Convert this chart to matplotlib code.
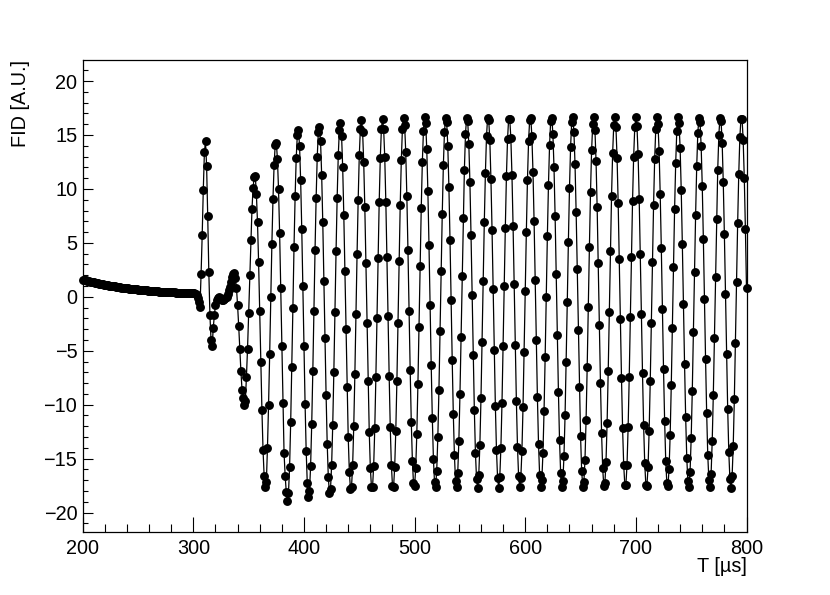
import numpy as np
import matplotlib
matplotlib.use("Agg")
import matplotlib.pyplot as plt
from matplotlib.ticker import MultipleLocator

# ---------------- data ----------------
t_start = 200      # first sample time [us]
t_step = 1         # sampling interval [us]

# 200 .. 303 us : slowly decaying baseline
fid_baseline = [
    1.60, 1.57, 1.55, 1.52, 1.49, 1.46, 1.43, 1.41, 1.38, 1.36,
    1.33, 1.31, 1.29, 1.26, 1.24, 1.22, 1.20, 1.18, 1.16, 1.14,
    1.12, 1.10, 1.08, 1.06, 1.04, 1.02, 1.00, 0.99, 0.97, 0.96,
    0.94, 0.92, 0.91, 0.89, 0.88, 0.86, 0.85, 0.83, 0.82, 0.80,
    0.79, 0.78, 0.76, 0.75, 0.74, 0.73, 0.71, 0.70, 0.69, 0.68,
    0.67, 0.66, 0.65, 0.64, 0.62, 0.61, 0.60, 0.59, 0.59, 0.58,
    0.57, 0.56, 0.55, 0.54, 0.53, 0.52, 0.51, 0.51, 0.50, 0.49,
    0.48, 0.47, 0.47, 0.46, 0.45, 0.45, 0.44, 0.43, 0.43, 0.42,
    0.42, 0.41, 0.40, 0.40, 0.39, 0.39, 0.38, 0.38, 0.37, 0.37,
    0.36, 0.36, 0.35, 0.35, 0.34, 0.34, 0.33, 0.33, 0.32, 0.32,
    0.31, 0.31, 0.30, 0.20,
]

# 304 .. 399 us : pulse transient and growing oscillation
fid_transient = [
    -0.1, -0.5, -0.95, 2.1, 5.7, 9.9, 13.4, 14.4, 12.1, 7.5,
    2.3, -1.7, -4.0, -4.6, -2.9, -1.7, -0.8, -0.3, -0.1, 0.0,
    -0.1, -0.2, -0.3, -0.3, -0.2, -0.1, 0.0, 0.3, 0.6, 0.9,
    1.4, 1.8, 2.1, 2.2, 1.7, 0.8, -0.8, -2.7, -4.8, -6.9,
    -8.6, -9.4, -10.0, -9.7, -7.4, -4.8, -1.5, 2.0, 5.3, 8.1,
    10.1, 11.1, 11.2, 9.5, 6.9, 3.2, -1.3, -6.0, -10.5, -14.2,
    -16.6, -17.6, -17.2, -14.0, -10.0, -5.3, 0.0, 4.9, 9.1, 12.2,
    14.1, 14.3, 12.8, 10.0, 5.9, 0.8, -4.6, -9.8, -14.5, -16.6,
    -18.1, -18.9, -18.2, -15.8, -11.6, -6.5, -1.0, 4.6, 9.3, 12.9,
    15.0, 15.5, 14.0, 10.8, 6.3, 1.0,
]

# 400 .. 800 us : steady precession signal
fid_steady = [
    -4.6, -9.9, -14.3, -17.3, -18.6, -18.0, -15.7, -11.8, -6.9, -1.3, 4.3, 9.2, 13.0, 15.3, 15.7, 14.4, 11.3, 6.9, 1.5,
    -3.8, -9.1, -13.6, -16.7, -18.2, -17.8, -15.6, -11.9, -7.0, -1.4, 4.2, 9.2, 13.1, 15.5, 16.1, 14.9, 12.0, 7.6, 2.4,
    -3.0, -8.4, -13.0, -16.2, -17.8, -17.6, -15.6, -12.0, -7.2, -1.6, 4.0, 9.0, 13.1, 15.6, 16.4, 15.3, 12.5, 8.3, 3.1,
    -2.4, -7.8, -12.5, -15.9, -17.6, -17.6, -15.7, -12.2, -7.4, -2.0, 3.6, 8.8, 12.9, 15.6, 16.5, 15.6, 13.0, 8.8, 3.7,
    -1.8, -7.3, -12.1, -15.6, -17.5, -17.6, -15.8, -12.4, -7.8, -2.4, 3.3, 8.5, 12.7, 15.6, 16.6, 15.9, 13.4, 9.3, 4.3,
    -1.3, -6.8, -11.6, -15.2, -17.3, -17.5, -15.9, -12.7, -8.1, -2.8, 2.9, 8.2, 12.5, 15.4, 16.7, 16.1, 13.7, 9.8, 4.8,
    -0.8, -6.3, -11.2, -15.0, -17.2, -17.6, -16.1, -13.0, -8.6, -3.2, 2.4, 7.7, 12.2, 15.3, 16.6, 16.2, 14.0, 10.2, 5.3,
    -0.3, -5.9, -10.9, -14.7, -17.1, -17.6, -16.3, -13.4, -9.0, -3.7, 1.9, 7.3, 11.8, 15.1, 16.6, 16.3, 14.2, 10.6, 5.7,
    0.2, -5.4, -10.5, -14.5, -16.9, -17.7, -16.5, -13.7, -9.4, -4.2, 1.5, 6.9, 11.5, 14.9, 16.6, 16.4, 14.5, 10.9, 6.2,
    0.7, -4.9, -10.1, -14.2, -16.8, -17.7, -16.7, -14.0, -9.8, -4.6, 1.0, 6.4, 11.2, 14.6, 16.5, 16.5, 14.7, 11.3, 6.6,
    1.2, -4.5, -9.7, -13.9, -16.6, -17.6, -16.8, -14.3, -10.2, -5.1, 0.5, 6.0, 10.8, 14.4, 16.4, 16.6, 14.9, 11.6, 7.0,
    1.6, -4.0, -9.3, -13.6, -16.5, -17.6, -17.0, -14.5, -10.6, -5.6, 0.0, 5.6, 10.4, 14.1, 16.3, 16.6, 15.1, 12.0, 7.5,
    2.1, -3.5, -8.8, -13.3, -16.3, -17.6, -17.1, -14.8, -11.0, -6.0, -0.5, 5.1, 10.1, 13.9, 16.2, 16.7, 15.3, 12.3, 7.9,
    2.6, -3.1, -8.4, -12.9, -16.1, -17.6, -17.2, -15.1, -11.4, -6.5, -0.9, 4.6, 9.7, 13.6, 16.0, 16.7, 15.5, 12.6, 8.3,
    3.1, -2.6, -8.0, -12.6, -15.9, -17.5, -17.3, -15.3, -11.7, -6.9, -1.4, 4.2, 9.3, 13.3, 15.9, 16.7, 15.7, 12.9, 8.7,
    3.5, -2.1, -7.5, -12.2, -15.6, -17.4, -17.4, -15.6, -12.1, -7.4, -1.9, 3.7, 8.9, 13.0, 15.7, 16.7, 15.8, 13.2, 9.1,
    4.0, -1.6, -7.1, -11.9, -15.4, -17.4, -17.5, -15.8, -12.4, -7.8, -2.4, 3.2, 8.5, 12.8, 15.6, 16.7, 16.0, 13.5, 9.5,
    4.5, -1.1, -6.7, -11.5, -15.2, -17.3, -17.5, -16.0, -12.8, -8.2, -2.9, 2.8, 8.1, 12.4, 15.4, 16.7, 16.1, 13.8, 9.9,
    4.9, -0.7, -6.2, -11.1, -14.9, -17.1, -17.6, -16.2, -13.1, -8.7, -3.3, 2.3, 7.6, 12.1, 15.2, 16.6, 16.2, 14.0, 10.3,
    5.4, -0.2, -5.8, -10.8, -14.7, -17.0, -17.6, -16.4, -13.4, -9.1, -3.8, 1.8, 7.2, 11.8, 15.0, 16.6, 16.3, 14.3, 10.6,
    5.8, 0.3, -5.3, -10.4, -14.4, -16.9, -17.7, -16.6, -13.8, -9.5, -4.3, 1.4, 6.8, 11.4, 14.8, 16.5, 16.5, 14.5, 11.0,
    6.3, 0.8,
]

x_label = "T [\u00b5s]"
y_label = "FID [A.U.]"
x_range = (200, 800)
y_range = (-21.8, 21.95)

# ---------------- figure ----------------
fid = np.array(fid_baseline + fid_transient + fid_steady)
t = t_start + t_step * np.arange(len(fid))

plt.rcParams['font.family'] = ['Liberation Sans', 'DejaVu Sans']

W, H = 830, 595
fig = plt.figure(figsize=(W / 100, H / 100), dpi=100)
fig.patch.set_facecolor('white')
ax = fig.add_axes([82.7 / W, 1 - 532 / H, (746.5 - 82.7) / W, (532 - 60) / H])

ax.plot(t, fid, color='black', lw=0.9, marker='o', ms=6.4,
        mfc='black', mec='black', mew=0.0, clip_on=False, zorder=3)

ax.set_xlim(*x_range)
ax.set_ylim(*y_range)

ax.xaxis.set_major_locator(MultipleLocator(100))
ax.xaxis.set_minor_locator(MultipleLocator(20))
ax.yaxis.set_major_locator(MultipleLocator(5))
ax.yaxis.set_minor_locator(MultipleLocator(1))

ax.tick_params(which='both', direction='in', top=False, right=False,
               color='black', width=0.8, labelsize=14.3)
ax.tick_params(axis='x', which='major', length=11, pad=5)
ax.tick_params(axis='x', which='minor', length=5.5)
ax.tick_params(axis='y', which='major', length=7.2, pad=4)
ax.tick_params(axis='y', which='minor', length=3.8)

ax.yaxis.set_major_formatter(matplotlib.ticker.FuncFormatter(
    lambda v, p: ("\u2212%d" % abs(v)) if v < 0 else "%d" % v))

for s in ax.spines.values():
    s.set_linewidth(0.9)
    s.set_color('black')

fig.text(746.5 / W, 1 - 566 / H, x_label, ha='right', va='center', fontsize=14.3)
fig.text(20 / W, 1 - 60 / H, y_label, ha='center', va='top', rotation=90, fontsize=14.3)

fig.savefig("out.png", dpi=100, facecolor='white')
